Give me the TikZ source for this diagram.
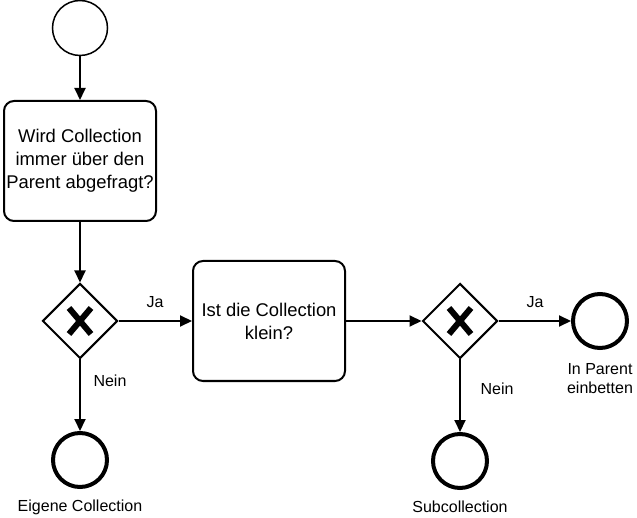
\documentclass[tikz,border=0pt]{standalone}
\usepackage{fontspec}
\setmainfont{Liberation Sans}
\usetikzlibrary{shapes.geometric,arrows.meta}
\begin{document}
\begin{tikzpicture}[x=1pt,y=-1pt,
  task/.style={draw,line width=2pt,rounded corners=10pt,minimum width=152pt,minimum height=120pt,inner sep=0pt,align=center,font=\fontsize{18.4}{23}\selectfont},
  startev/.style={draw,circle,line width=1.5pt,minimum size=55pt,inner sep=0pt},
  endev/.style={draw,circle,line width=4pt,minimum size=54pt,inner sep=0pt},
  gate/.style={draw,diamond,line width=2pt,minimum width=75pt,minimum height=75pt,inner sep=0pt},
  lbl/.style={font=\fontsize{16}{19}\selectfont,inner sep=0pt,align=center},
  flow/.style={line width=2pt,-{Triangle[length=12pt,width=11pt]}},
  xmark/.style={line width=6pt}]
\useasboundingbox (0,0) rectangle (637,518);
\node[startev] (start) at (80,28) {};
\node[task] (t1) at (80,161) {Wird Collection\\immer über den\\Parent abgefragt?};
\node[gate] (g1) at (80,321) {};
\node[task] (t2) at (269,321) {Ist die Collection\\klein?};
\node[gate] (g2) at (460,321) {};
\node[endev] (e1) at (80,460) {};
\node[endev] (e2) at (600,321) {};
\node[endev] (e3) at (460,461) {};
\foreach \g in {g1,g2}{
  \draw[xmark] ([shift={(-11,-13)}]\g.center) -- ([shift={(11,13)}]\g.center);
  \draw[xmark] ([shift={(11,-13)}]\g.center) -- ([shift={(-11,13)}]\g.center);
}
\draw[flow] (start) -- (t1);
\draw[flow] (t1) -- (g1);
\draw[flow] (g1) -- (t2);
\draw[flow] (g1) -- (e1);
\draw[flow] (t2) -- (g2);
\draw[flow] (g2) -- (e2);
\draw[flow] (g2) -- (e3);
\node[lbl] (l1) at (155,302) {Ja};
\node[lbl] (l2) at (110,381) {Nein};
\node[lbl] (l3) at (80,507) {Eigene Collection};
\node[lbl] (l4) at (535,302) {Ja};
\node[lbl] (l5) at (497,389) {Nein};
\node[lbl] (l6) at (600,379) {In Parent\\einbetten};
\node[lbl] (l7) at (460,507) {Subcollection};
\end{tikzpicture}
\end{document}
